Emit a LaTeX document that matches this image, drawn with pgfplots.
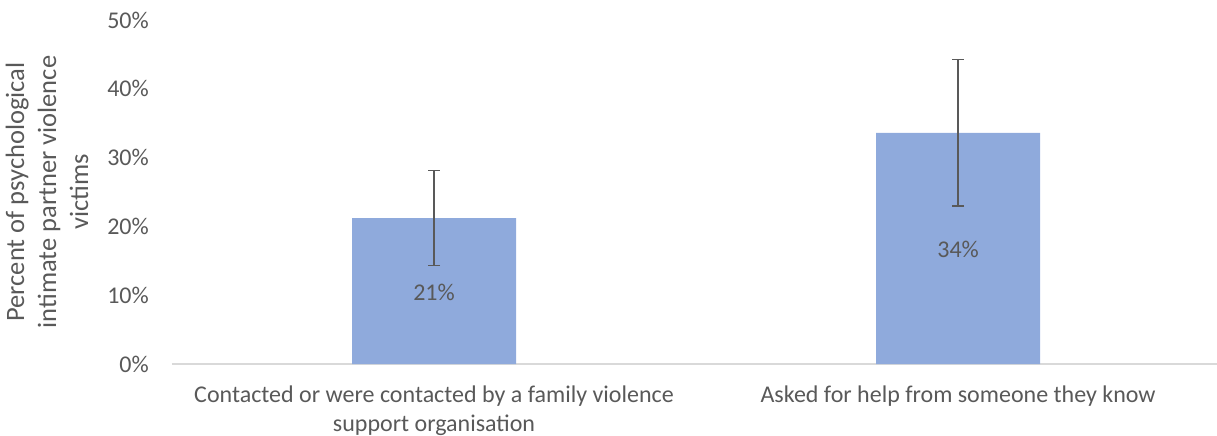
\documentclass[border=0pt]{standalone}
\usepackage{fontspec}
\setmainfont{Carlito}
\usepackage{pgfplots}
\pgfplotsset{compat=1.18}
\definecolor{barblue}{HTML}{8FAADC}
\definecolor{txtgray}{HTML}{595959}
\definecolor{axgray}{HTML}{D9D9D9}
\definecolor{errgray}{HTML}{595959}
\begin{document}
\begin{tikzpicture}
\fontsize{24bp}{29bp}\selectfont
\begin{axis}[
  name=ax,
  scale only axis,
  width=1045bp, height=344bp,
  xmin=-0.5, xmax=1.494,
  ymin=0, ymax=50,
  axis x line*=bottom,
  axis y line*=left,
  x axis line style={axgray, line width=1.2pt, -},
  y axis line style={draw=none},
  xtick=data,
  xticklabels={{Contacted or were contacted by a family violence\\support organisation},{Asked for help from someone they know}},
  xtick style={draw=none},
  xticklabel style={align=center, anchor=north, inner sep=0pt, yshift=-22bp, text=txtgray, font=\fontsize{24bp}{29bp}\selectfont},
  ytick={0,10,20,30,40,50},
  yticklabels={0\%,10\%,20\%,30\%,40\%,50\%},
  ytick style={draw=none},
  yticklabel style={anchor=east, inner sep=0pt, xshift=-23bp, text=txtgray, font=\fontsize{24bp}{29bp}\selectfont},
  clip=false,
  ylabel={Percent of psychological\\intimate partner violence\\victims},
  ylabel style={at={(axis description cs:-0.1196,0.5)}, anchor=center, align=center, inner sep=0pt, text=txtgray, font=\fontsize{26.5bp}{32bp}\selectfont},
]
\addplot[ybar, bar width=0.313, fill=barblue, draw=none,
  error bars/.cd, y dir=both, y explicit,
  error bar style={errgray, line width=1.5pt},
  error mark options={rotate=90, mark size=6bp, line width=1.5pt, errgray}]
  coordinates {(0,21.2) +- (0,6.9) (1,33.6) +- (0,10.65)};
\addplot[only marks, mark=none, nodes near coords, point meta=explicit symbolic,
  nodes near coords align=center,
  every node near coord/.append style={text=txtgray, font=\fontsize{24bp}{29bp}\selectfont, anchor=center}]
  coordinates {(0,10.4) [21\%] (1,16.7) [34\%]};
\end{axis}
\pgfresetboundingbox
\path (ax.south west) ++(-172bp,-72bp) rectangle ++(1217bp,436bp);
\end{tikzpicture}
\end{document}
